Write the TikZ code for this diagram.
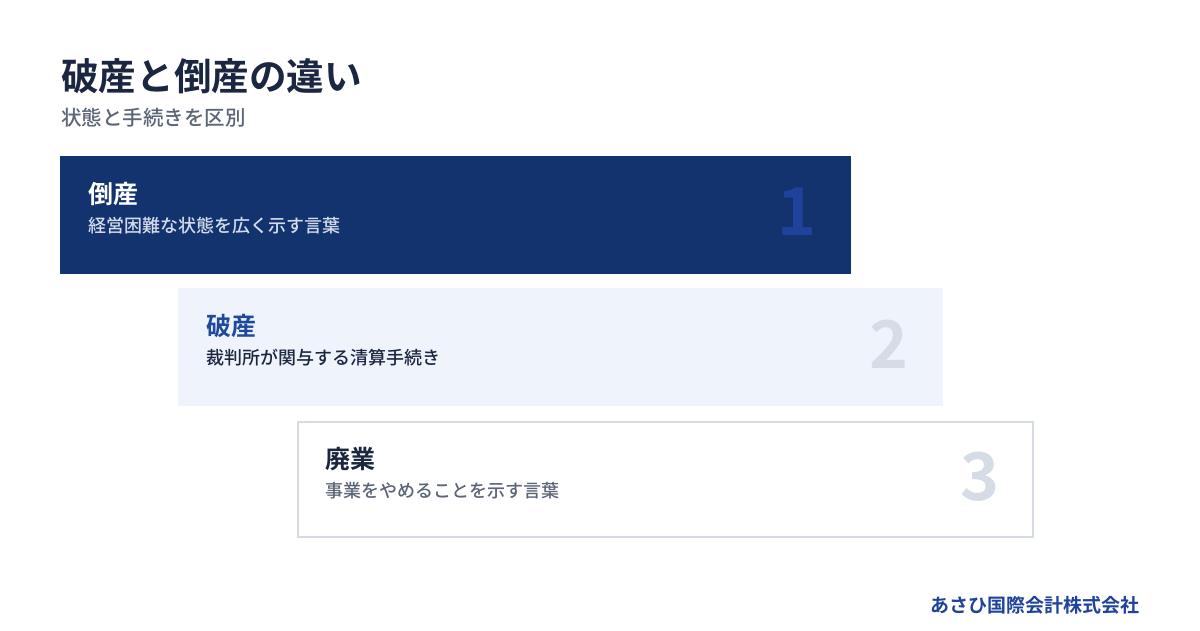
\documentclass[tikz,border=0pt]{standalone}
\usepackage{fontspec}
\setmainfont{Noto Sans CJK JP}[BoldFont={Noto Sans CJK JP Bold}]
\newfontfamily\medium{Noto Sans CJK JP Medium}
\usetikzlibrary{positioning}
\definecolor{navy}{HTML}{13336F}
\definecolor{numA}{HTML}{1F439A}
\definecolor{numB}{HTML}{D5DCE5}
\definecolor{mist}{HTML}{EFF3FB}
\definecolor{rule}{HTML}{D5DBE5}
\definecolor{blue}{HTML}{1E4A9E}
\definecolor{ink}{HTML}{1B2740}
\definecolor{slate}{HTML}{5B6576}
\definecolor{pale}{HTML}{D4DCEC}
\newcommand{\fs}[1]{\fontsize{#1}{#1}\selectfont}

\begin{document}
\begin{tikzpicture}[x=1pt,y=-1pt]
\useasboundingbox (0,0) rectangle (1200,630);
\node[anchor=west,inner sep=0,font=\bfseries\fs{37.6},text=ink](T) at (61,76){破産と倒産の違い};
\node[anchor=west,inner sep=0,font=\medium\fs{20.5},text=slate](S) at (61,118){状態と手続きを区別};

\foreach \x/\y/\w/\h/\bg/\bd/\hc/\sc/\nc/\head/\body [count=\n] in
    {61/157/789/116/navy/navy/white/pale/numA/倒産/経営困難な状態を広く示す言葉,
     179/289/763/116/mist/mist/blue/ink/numB/破産/裁判所が関与する清算手続き,
     298/422/735/115/white/rule/ink/slate/numB/廃業/事業をやめることを示す言葉}
    {
    \node[draw=\bd,fill=\bg,line width=2pt,anchor=north west,inner sep=0,outer sep=0,minimum width=\w pt,minimum height=\h pt](C\n) at (\x,\y){};
    \node[anchor=west,inner sep=0,font=\bfseries\fs{25},text=\hc](H\n) at (\x+27,\y+37){\head};
    \node[anchor=west,inner sep=0,font=\medium\fs{18},text=\sc](B\n) at (\x+27,\y+69){\body};
    \node[inner sep=0,font=\bfseries\fs{66},text=\nc](N\n) at (\x+\w-53,\y+55){\n};
    }

\node[anchor=east,inner sep=0,font=\bfseries\fs{19},text=numA](F) at (1140,605){あさひ国際会計株式会社};
\end{tikzpicture}
\end{document}
